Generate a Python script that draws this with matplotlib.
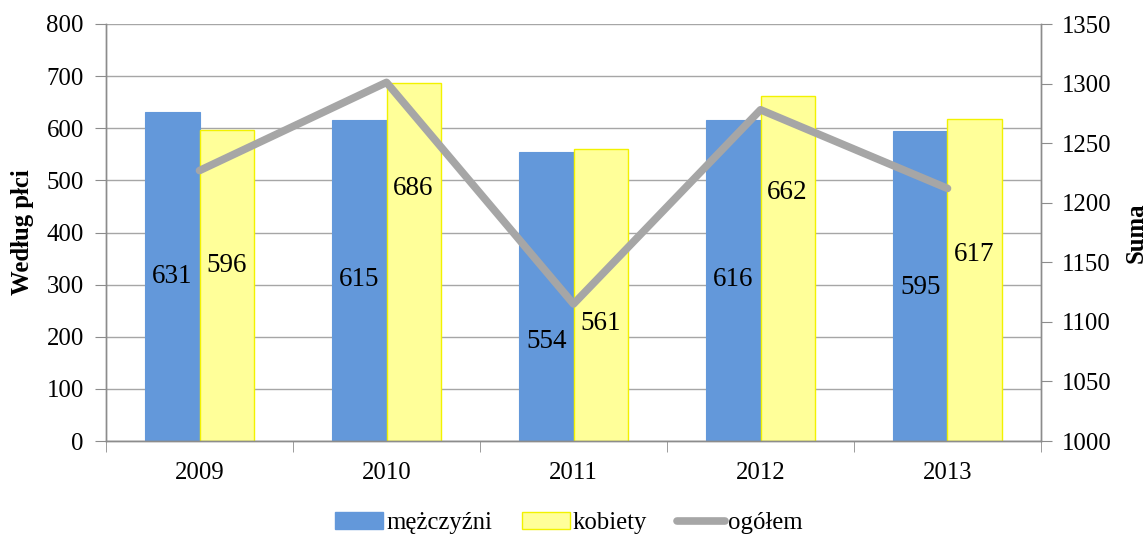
import matplotlib
matplotlib.use("Agg")
import matplotlib.pyplot as plt
from matplotlib.lines import Line2D
from matplotlib.patches import Patch
import numpy as np

years = ["2009", "2010", "2011", "2012", "2013"]
men = [631, 615, 554, 616, 595]
women = [596, 686, 561, 662, 617]
total = [1227, 1301, 1115, 1278, 1212]
# vertical anchor (in left-axis data units) of each data label, as placed in the reference
men_label_y = [315, 309, 190, 309, 295]
women_label_y = [336, 485, 226, 476, 357]

plt.rcParams['font.family'] = ['Liberation Serif', 'DejaVu Serif']
FS = 17.8
FS_LAB = 19.5

fig = plt.figure(figsize=(11.47, 5.36), dpi=100)
ax = fig.add_axes([106/1147, 95/536, (1041-106)/1147, (441-24)/536])
ax2 = ax.twinx()

x = np.arange(len(years))
w = 0.29
blue = "#6398DA"
yellow = "#FFFF99"
ax.bar(x - w/2, men, w, color=blue, edgecolor=blue, linewidth=0.8, zorder=2)
ax.bar(x + w/2, women, w, color=yellow, edgecolor="#F2F200", linewidth=1.0, zorder=2)

for i in range(len(years)):
    ax.text(x[i] - w/2, men_label_y[i], str(men[i]), ha="center", va="center", fontsize=FS_LAB, zorder=5)
    ax.text(x[i] + w/2, women_label_y[i], str(women[i]), ha="center", va="center", fontsize=FS_LAB, zorder=5)

ax.set_xlim(-0.5, len(years) - 0.5)
ax.set_ylim(0, 800)
ax.set_yticks(range(0, 801, 100))
ax.yaxis.grid(True, color="#A6A6A6", linewidth=1.0, zorder=0)
ax.set_axisbelow(True)
ax.set_xticks(x)
ax.set_xticklabels(years, fontsize=FS)
ax.set_xticks(np.arange(-0.5, len(years), 1.0), minor=True)
ax.tick_params(axis="x", which="major", length=0, pad=15)
ax.tick_params(axis="x", which="minor", length=8, color="#8C8C8C", direction="out")
ax.tick_params(axis="y", labelsize=FS, length=8, color="#8C8C8C", pad=8)
ax.set_ylabel("Według płci", fontsize=FS, fontweight="bold")
ax.yaxis.set_label_coords((23 - 106) / 935, 0.5)
ax.yaxis.label.set_verticalalignment("center")

ax2.plot(x, total, color="#A6A6A6", linewidth=5.5, solid_capstyle="round", zorder=4)
ax2.set_ylim(1000, 1350)
ax2.set_yticks(range(1000, 1351, 50))
ax2.tick_params(axis="y", labelsize=FS, length=8, color="#8C8C8C", pad=7)
ax2.set_ylabel("Suma", fontsize=FS, fontweight="bold")
ax2.yaxis.set_label_coords((1136 - 106) / 935, 0.5)
ax2.yaxis.label.set_verticalalignment("center")

for a in (ax, ax2):
    a.spines["top"].set_visible(False)
    for s in ("left", "right", "bottom"):
        a.spines[s].set_color("#8C8C8C")
        a.spines[s].set_linewidth(1.0)

handles = [
    Patch(facecolor=blue, edgecolor=blue),
    Patch(facecolor=yellow, edgecolor="#F2F200"),
    Line2D([0], [0], color="#A6A6A6", linewidth=5.5, solid_capstyle="round"),
]
fig.legend(handles, ["mężczyźni", "kobiety", "ogółem"], loc="center", bbox_to_anchor=(569/1147, 13/536),
           ncol=3, frameon=False, fontsize=FS, handlelength=1.95, handleheight=0.7,
           handletextpad=0.12, columnspacing=1.2)

fig.savefig("out.png", dpi=100)
